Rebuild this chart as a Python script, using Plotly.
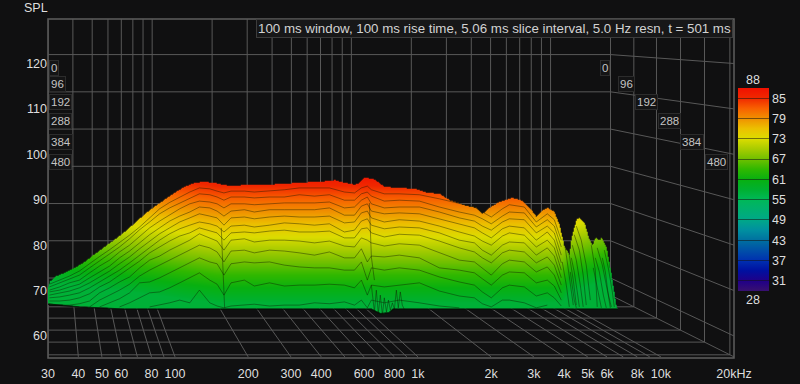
import numpy as np
import plotly.graph_objects as go

BG = "#101011"
GRID = "#585858"
TXT = "#dedede"
FONT = "Liberation Sans, Arial, sans-serif"

freq_ticks = [30, 40, 50, 60, 80, 100, 200, 300, 400, 600, 800, 1000, 2000, 3000, 4000, 5000, 6000, 8000, 10000, 20000]
freq_labels = ["30", "40", "50", "60", "80", "100", "200", "300", "400", "600", "800", "1k", "2k", "3k", "4k", "5k", "6k", "8k", "10k", "20kHz"]
freq_grid = [30, 40, 50, 60, 70, 80, 90, 100, 200, 300, 400, 500, 600, 700, 800, 900, 1000, 2000, 3000, 4000, 5000, 6000, 7000, 8000, 9000, 10000, 20000]
spl_ticks = [60, 70, 80, 90, 100, 110, 120]
time_labels = ["0", "96", "192", "288", "384", "480"]
depth_planes = [0.82, 0.854, 0.887, 0.922, 0.957, 0.994]
colorbar_ticks = [85, 79, 73, 67, 61, 55, 49, 43, 37, 31]

outline_f = [30, 30.4, 31.9, 35.1, 38.6, 42.4, 46.6, 51.2, 56.3, 61.9, 68.1, 74.9, 82.3, 90.5, 99.5, 109, 120, 132, 145, 155, 170, 202, 245, 282, 325, 375, 432, 453, 498, 548, 574, 602, 643, 662, 727, 822, 966, 1093, 1225, 1346, 1582, 1740, 1841, 1968, 2163, 2447, 2691, 2874, 3070, 3219, 3408, 3642, 3820, 4005, 4199, 4279, 4486, 4617, 4840, 5074, 5220, 5371, 5581, 5688, 5961, 6253, 6552, 6650, 6651, 20000]
outline_spl = [70.8, 71.9, 73.0, 73.9, 75.0, 76.3, 78.0, 79.6, 81.2, 82.9, 84.8, 86.8, 88.5, 90.0, 91.5, 92.8, 93.7, 93.9, 93.7, 93.3, 93.0, 93.3, 93.3, 93.5, 93.7, 93.9, 94.1, 94.3, 93.7, 93.3, 93.7, 94.8, 94.6, 94.4, 92.8, 92.6, 92.4, 91.5, 91.3, 89.9, 88.6, 88.2, 86.9, 88.2, 89.5, 90.4, 89.7, 88.2, 86.2, 87.5, 88.2, 87.3, 84.4, 79.6, 77.8, 81.6, 85.6, 86.0, 84.9, 81.1, 80.0, 81.6, 81.1, 81.6, 79.6, 73.4, 66.4, 65.9, 60, 60]
floor_f = [30, 33.5, 40.4, 61.9, 643, 662, 700, 760, 790, 6650]
floor_spl = [67.0, 66.8, 66.4, 65.9, 65.9, 65.5, 64.9, 65.1, 65.9, 65.9]

# colour of the surface runs a little lower at the low end and in the high-frequency lobes
tint_f = [30, 50, 100, 150, 3900, 4200, 5000, 6650]
tint_db = [-5, -3.5, -1.2, 0, 0, -2.5, -4, -6]
SURFACE_COLOUR_FLOOR = 57.5

slice_f = [30.4, 33.5, 36.8, 40.4, 44.5, 48.9, 53.8, 59.1, 65, 71.5, 78.6, 86.4, 95, 104.5, 115, 126, 139, 149, 159, 170, 193, 212, 245, 282, 325, 375, 432, 498, 548, 585, 619, 643, 727, 838, 1014, 1225, 1480, 1708, 1841, 2004, 2226, 2378, 2741, 3070, 3408, 3642, 3891]
N = None
slice_1 = [71.4, 72.3, 73.2, 74.3, 76.0, 77.5, 79.0, 80.5, 82.2, 84.0, 86.0, 88.0, 89.4, 90.6, 91.7, 92.6, 92.4, 91.9, 91.5, 91.9, 91.9, 91.7, 91.9, 92.2, 92.6, 92.6, 92.6, 91.7, 91.5, 92.6, 93.0, 92.2, 91.3, 91.3, 91.1, 90.2, 89.1, 88.4, 87.3, 86.2, 88.0, 88.9, 88.4, 85.1, 86.9, 85.6, 81.1]
slice_2 = [70.8, 71.7, 72.6, 73.4, 75.0, 76.5, 78.0, 79.6, 81.4, 83.4, 85.1, 86.9, 88.2, 89.3, 90.4, 91.3, 91.1, 90.6, 89.9, 90.6, 90.6, 90.4, 90.6, 90.6, 91.1, 90.8, 91.1, 89.9, 89.9, 91.3, 91.7, 90.8, 89.7, 89.9, 89.7, 88.4, 87.3, 86.6, 85.8, 84.7, 86.4, 87.3, 87.1, 84.0, 85.6, 84.2, 79.6]
slice_3 = [70.1, 70.8, 71.7, 72.3, 73.9, 75.4, 76.7, 78.5, 80.0, 82.0, 83.8, 85.3, 86.7, 88.0, 89.1, 89.7, 89.5, 89.1, 88.2, 89.1, 89.1, 88.9, 89.1, 89.3, 89.3, 89.3, 89.5, 88.2, 88.4, 89.9, 90.6, 89.1, 88.2, 88.4, 88.4, 87.3, 86.0, 85.3, 84.2, 83.3, 85.1, 85.8, 85.6, 82.7, 84.2, 82.7, 77.8]
slice_4 = [69.7, 70.1, 70.8, 71.4, 72.8, 74.1, 75.4, 77.2, 78.7, 80.5, 82.3, 83.8, 85.3, 86.4, 87.3, 88.4, 88.2, 87.5, 86.4, 87.5, 87.8, 87.3, 87.8, 87.8, 87.8, 87.8, 88.2, 86.6, 86.6, 88.6, 89.1, 87.5, 86.9, 87.1, 86.9, 85.8, 84.7, 83.8, 82.7, 81.6, 83.6, 84.2, 83.8, 81.1, 82.9, 81.1, 76.1]
slice_5 = [69.0, 69.5, 69.9, 70.6, 71.7, 73.0, 74.3, 75.9, 77.4, 79.2, 80.9, 82.5, 83.8, 85.1, 86.0, 86.9, 86.4, 86.0, 84.4, 86.0, 86.2, 85.8, 86.2, 86.4, 86.2, 86.2, 86.4, 84.9, 85.1, 87.1, 87.5, 86.0, 85.1, 85.6, 85.3, 84.2, 82.9, 82.0, 80.9, 80.0, 82.0, 82.7, 82.2, 79.6, 81.1, 79.4, 74.5]
slice_6 = [68.4, 68.6, 69.0, 69.5, 70.6, 71.9, 73.2, 74.5, 76.1, 77.8, 79.6, 81.1, 82.5, 83.6, 84.4, 85.1, 84.7, 84.2, 82.9, 84.2, 84.4, 84.0, 84.4, 84.9, 84.7, 84.4, 84.7, 82.9, 83.3, 85.3, 85.8, 84.4, 83.6, 84.0, 83.8, 82.7, 81.1, 80.5, 78.9, 77.8, 80.0, 80.7, 80.5, 77.8, 79.4, 77.6, 72.8]
slice_7 = [67.7, 67.7, 67.9, 68.4, 69.3, 70.8, 71.9, 73.4, 74.8, 76.5, 78.3, 79.6, 80.9, 82.0, 82.7, 83.8, 83.1, 82.7, 81.1, 82.7, 82.9, 82.7, 83.1, 83.3, 82.9, 82.9, 83.1, 81.6, 81.6, 83.6, 83.8, 82.7, 81.8, 82.4, 82.2, 80.9, 79.4, 78.5, 77.2, 76.1, 78.3, 78.9, 78.5, 76.1, 77.4, 75.6, 71.2]
slice_8 = [67.1, 66.8, 66.8, 67.1, 67.7, 69.5, 70.6, 71.9, 73.0, 75.0, 76.7, 77.6, 78.9, 80.0, 81.1, 82.5, 81.6, 80.9, 78.9, 81.1, 81.4, 80.7, 81.1, 81.1, 80.9, 80.5, 80.9, 79.8, 79.6, 81.6, 81.1, 80.5, 79.8, 80.3, 80.0, 78.3, 76.7, 76.3, 75.0, 73.4, 75.9, 76.7, 76.3, 74.1, 75.2, 73.4, 69.5]
slice_9 = [N, N, N, N, 66.4, 67.9, 69.0, 70.1, 71.4, 73.2, 74.5, 75.6, 76.7, 77.8, 78.9, 80.0, 79.4, 78.5, 76.3, 78.7, 78.9, 78.3, 78.9, 78.7, 78.3, 77.8, 78.5, 77.2, 77.2, 79.2, 76.3, 77.6, 77.4, 77.8, 77.2, 75.0, 74.5, 73.9, 72.6, 71.2, 73.4, 74.1, 73.9, 71.7, 72.3, 71.0, 67.9]
slice_10 = [N, N, N, N, N, 66.4, 67.3, 68.2, 69.5, 71.7, 71.9, 72.8, 73.9, 75.0, 76.1, 77.2, 76.3, 75.9, 73.4, 75.9, 76.3, 76.1, 76.3, 75.6, 75.2, 75.0, 75.0, 74.5, 74.5, 76.3, 72.3, 75.0, 74.5, 75.0, 74.5, 73.0, 71.9, 71.2, 69.7, 68.4, 70.6, 71.2, 70.8, 68.8, 69.5, 68.4, 66.6]
slice_11 = [N, N, N, N, N, N, N, 66.4, 67.3, 68.4, 69.5, 69.7, 70.6, 71.7, 72.8, 73.9, 72.3, 71.4, 69.0, 71.7, 72.3, 71.0, 71.7, 71.0, 71.2, 71.2, 71.4, 71.2, 70.6, 72.3, 69.0, 71.2, 70.8, 71.2, 71.7, 69.9, 68.8, 68.4, 67.1, 66.4, 67.9, 67.9, 67.3, 66.2, 66.8, N, N]
slice_12 = [N, N, N, N, N, N, N, N, N, N, 66.4, 66.8, 67.3, 67.9, 67.3, 70.1, 67.3, 66.6, 66.2, 66.6, 66.8, 67.0, 66.6, 66.8, 66.8, 67.3, 67.1, 67.5, 66.8, 67.9, 66.2, 67.9, 67.3, 67.9, 67.3, 66.6, 66.2, N, N, N, N, N, N, N, N, N, N]
slices = [slice_1, slice_2, slice_3, slice_4, slice_5, slice_6, slice_7, slice_8, slice_9, slice_10, slice_11, slice_12]

squiggle_f = [643, 662, 674, 687, 700, 714, 727, 742, 756, 770, 785, 800, 815, 830, 846, 862, 878, N, 631, 643, 662, N, 155, 158, 160]
squiggle_spl = [71.2, 65.3, 70.1, 64.9, 69.0, 64.6, 68.4, 65.3, 67.9, 65.7, 67.3, 65.9, 70.1, 66.2, 69.7, 66.8, 65.9, N, 89.3, 77.4, 72.3, N, 83.8, 72.0, 66.2]

lobe_f = [4042, 4199, 4360, N, 3927, 4081, 4199, N, 4199, 4360, 4486, N, 4486, 4700, 4930, 5124, N, 4400, 4617, 4789, 4930, N, 4319, 4486, 4660, 4789, N, 4279, 4400, 4528, 4617, N, 4239, 4319, 4400, 4486, N, 5172, 5371, 5470, N, 5470, 5742, 6018, 6253, N, 5371, 5581, 5797, 5961, N, 5270, 5420, 5581, 5688, N, 5852, 6075, 6312, 6432, N, 5742, 5908, 6075, 6192]
lobe_spl = [79.4, 73.4, 66.8, N, 76.3, 71.2, 66.4, N, 77.8, 72.3, 66.8, N, 84.2, 81.1, 75.6, 67.9, N, 82.3, 78.9, 73.4, 66.8, N, 80.0, 76.7, 71.2, 66.4, N, 77.2, 74.1, 69.7, 66.4, N, 74.1, 71.2, 67.9, 66.2, N, 80.0, 74.5, 66.4, N, 79.4, 75.6, 70.1, 66.4, N, 77.2, 74.1, 69.0, 66.2, N, 75.0, 71.9, 67.9, 66.2, N, 78.9, 75.0, 69.7, 66.4, N, 77.2, 74.1, 69.0, 66.2]

colorscale_stops = [
    (28, "#381070"), (31, "#200088"), (34, "#0010a0"), (37, "#0030b0"), (40, "#0050a8"),
    (43, "#0070a0"), (46, "#0090a0"), (49, "#00a888"), (52, "#00b070"), (55, "#00b858"),
    (58, "#00b030"), (61, "#08b010"), (64, "#30b800"), (67, "#70c000"), (70, "#a8cc00"),
    (73, "#dcdc00"), (76, "#ecc000"), (79, "#f09000"), (82, "#f86000"), (85, "#f02800"), (88, "#f01000"),
]
ZMIN, ZMAX = 28, 88
colorscale = [[(v - ZMIN) / (ZMAX - ZMIN), c] for v, c in colorscale_stops]

# axes
X_RANGE = [np.log10(30), np.log10(20000)]
Y_RANGE = [55.15, 129.8]
FLOOR = 55.4
VANISH = 130.9
lx0 = X_RANGE[0]
S_BACK = depth_planes[0]


def proj_x(f, s):
    return 10 ** (lx0 + s * (np.log10(f) - lx0))


def proj_y(v, s):
    return VANISH + s * (v - VANISH)


gx, gy = [], []


def seg(xs, ys):
    gx.extend(list(xs) + [None])
    gy.extend(list(ys) + [None])


for v in spl_ticks:
    seg([30, proj_x(20000, S_BACK), 20000], [proj_y(v, S_BACK), proj_y(v, S_BACK), v])
for f in freq_grid:
    seg([proj_x(f, S_BACK)] * 2, [proj_y(FLOOR, S_BACK), Y_RANGE[1]])
    seg([proj_x(f, S_BACK), f], [proj_y(FLOOR, S_BACK), FLOOR])
for s in depth_planes:
    seg([proj_x(20000, s)] * 2, [proj_y(FLOOR, s), Y_RANGE[1]])
    seg([30, proj_x(20000, s)], [proj_y(FLOOR, s), proj_y(FLOOR, s)])

fig = go.Figure()
fig.add_trace(go.Scatter(x=gx, y=gy, mode="lines", line=dict(color=GRID, width=1), hoverinfo="skip", showlegend=False))

# coloured surface: colour follows level, masked to the region between floor and outline
grid_f = np.logspace(np.log10(30), np.log10(20000), 1373)
grid_spl = np.arange(64.0, 96.0, 0.11)
out_i = np.interp(np.log10(grid_f), np.log10(outline_f), outline_spl)
flo_i = np.interp(np.log10(grid_f), np.log10(floor_f), floor_spl)
tint_i = np.interp(np.log10(grid_f), np.log10(tint_f), tint_db)
LL, FF = np.meshgrid(grid_spl, grid_f, indexing="ij")
zz = np.maximum(86 + (LL - 93.9) * 1.07 + tint_i[None, :], SURFACE_COLOUR_FLOOR)
zz[(LL > out_i[None, :]) | (LL < flo_i[None, :])] = np.nan

fig.add_trace(go.Heatmap(
    x=grid_f, y=grid_spl, z=zz, xaxis="x2", yaxis="y2", colorscale=colorscale, zmin=ZMIN, zmax=ZMAX,
    hoverongaps=False, hoverinfo="skip",
    colorbar=dict(
        x=(738 - 48) / 686, xanchor="left", y=1 - (88 - 19) / 339, yanchor="top",
        thickness=31, thicknessmode="pixels", len=203, lenmode="pixels", outlinewidth=0, xpad=0, ypad=0,
        tickmode="array", tickvals=colorbar_ticks, ticktext=[str(t) for t in colorbar_ticks],
        ticks="inside", ticklen=31, tickwidth=1, tickcolor="rgba(20,20,20,0.55)",
        tickfont=dict(color=TXT, size=12.5, family=FONT),
    ),
))

LINE = "rgba(15,25,0,0.42)"
for sl in slices:
    fig.add_trace(go.Scatter(x=slice_f, y=sl, xaxis="x2", yaxis="y2", mode="lines", connectgaps=False,
                             line=dict(color=LINE, width=1), hoverinfo="skip", showlegend=False))
fig.add_trace(go.Scatter(x=squiggle_f, y=squiggle_spl, xaxis="x2", yaxis="y2", mode="lines",
                         line=dict(color=LINE, width=1), hoverinfo="skip", showlegend=False))
fig.add_trace(go.Scatter(x=lobe_f, y=lobe_spl, xaxis="x2", yaxis="y2", mode="lines",
                         line=dict(color=LINE, width=1), hoverinfo="skip", showlegend=False))
fig.add_trace(go.Scatter(x=floor_f, y=floor_spl, xaxis="x2", yaxis="y2", mode="lines",
                         line=dict(color="rgba(5,15,5,0.8)", width=1.5), hoverinfo="skip", showlegend=False))


def px(x):
    return (x - 48) / 686


def py(y):
    return 1 - (y - 19) / 339


ann = []


def text(t, x, y, anchor="center", size=12.5, **kw):
    ann.append(dict(text=t, xref="paper", yref="paper", x=px(x), y=py(y), xanchor=anchor, yanchor="middle",
                    showarrow=False, font=dict(color=kw.pop("color", TXT), size=size, family=FONT), **kw))


left_x = [49, 49, 49, 49, 49, 49]
left_y = [68, 84, 102, 121, 142, 162]
right_x = [605, 626, 646, 669, 692, 716]
for i, lab in enumerate(time_labels):
    box = dict(bgcolor="#141415", bordercolor="#2c2c2c", borderwidth=1, borderpad=1, color="#c4c4c4")
    text(lab, left_x[i], left_y[i], anchor="left", size=11.5, **box)
    box = dict(bgcolor="#141415", bordercolor="#2c2c2c", borderwidth=1, borderpad=1, color="#c4c4c4")
    text(lab, right_x[i], left_y[i], size=11.5, **box)

text("SPL", 36, 8)
text("88", 753, 80)
text("28", 753, 300)

title_text = "100 ms window, 100 ms rise time, 5.06 ms slice interval, 5.0 Hz resn, t = 501 ms"
text(title_text, 733, 28.5, anchor="right", size=13.3, bgcolor="#171718", bordercolor="#3c3c3c", borderwidth=1, borderpad=1, color="#d2d2d2")

axis_common = dict(showgrid=False, zeroline=False, showline=False)
fig.update_layout(
    width=800, height=384, autosize=False,
    margin=dict(l=48, r=66, t=19, b=26, pad=0, autoexpand=False),
    paper_bgcolor=BG, plot_bgcolor=BG, showlegend=False,
    font=dict(family=FONT, color=TXT, size=12.5),
    xaxis=dict(type="log", range=X_RANGE, tickmode="array", tickvals=freq_ticks, ticktext=freq_labels,
               ticks="outside", ticklen=4, tickcolor="rgba(0,0,0,0)",
               tickfont=dict(color=TXT, size=12.5), **axis_common),
    yaxis=dict(range=Y_RANGE, tickmode="array", tickvals=spl_ticks, ticks="",
               tickfont=dict(color=TXT, size=12.5), **axis_common),
    xaxis2=dict(type="log", range=X_RANGE, overlaying="x", anchor="y2", visible=False),
    yaxis2=dict(range=Y_RANGE, overlaying="y", anchor="x2", visible=False),
    annotations=ann,
    shapes=[dict(type="rect", xref="paper", yref="paper", x0=0, x1=1, y0=0, y1=1,
                 line=dict(color="#5e5e5e", width=1.5), layer="below")],
)
fig.write_html("out.html", config={"displayModeBar": False},
               post_script="document.body.style.margin='0';document.body.style.background='#101011';")
